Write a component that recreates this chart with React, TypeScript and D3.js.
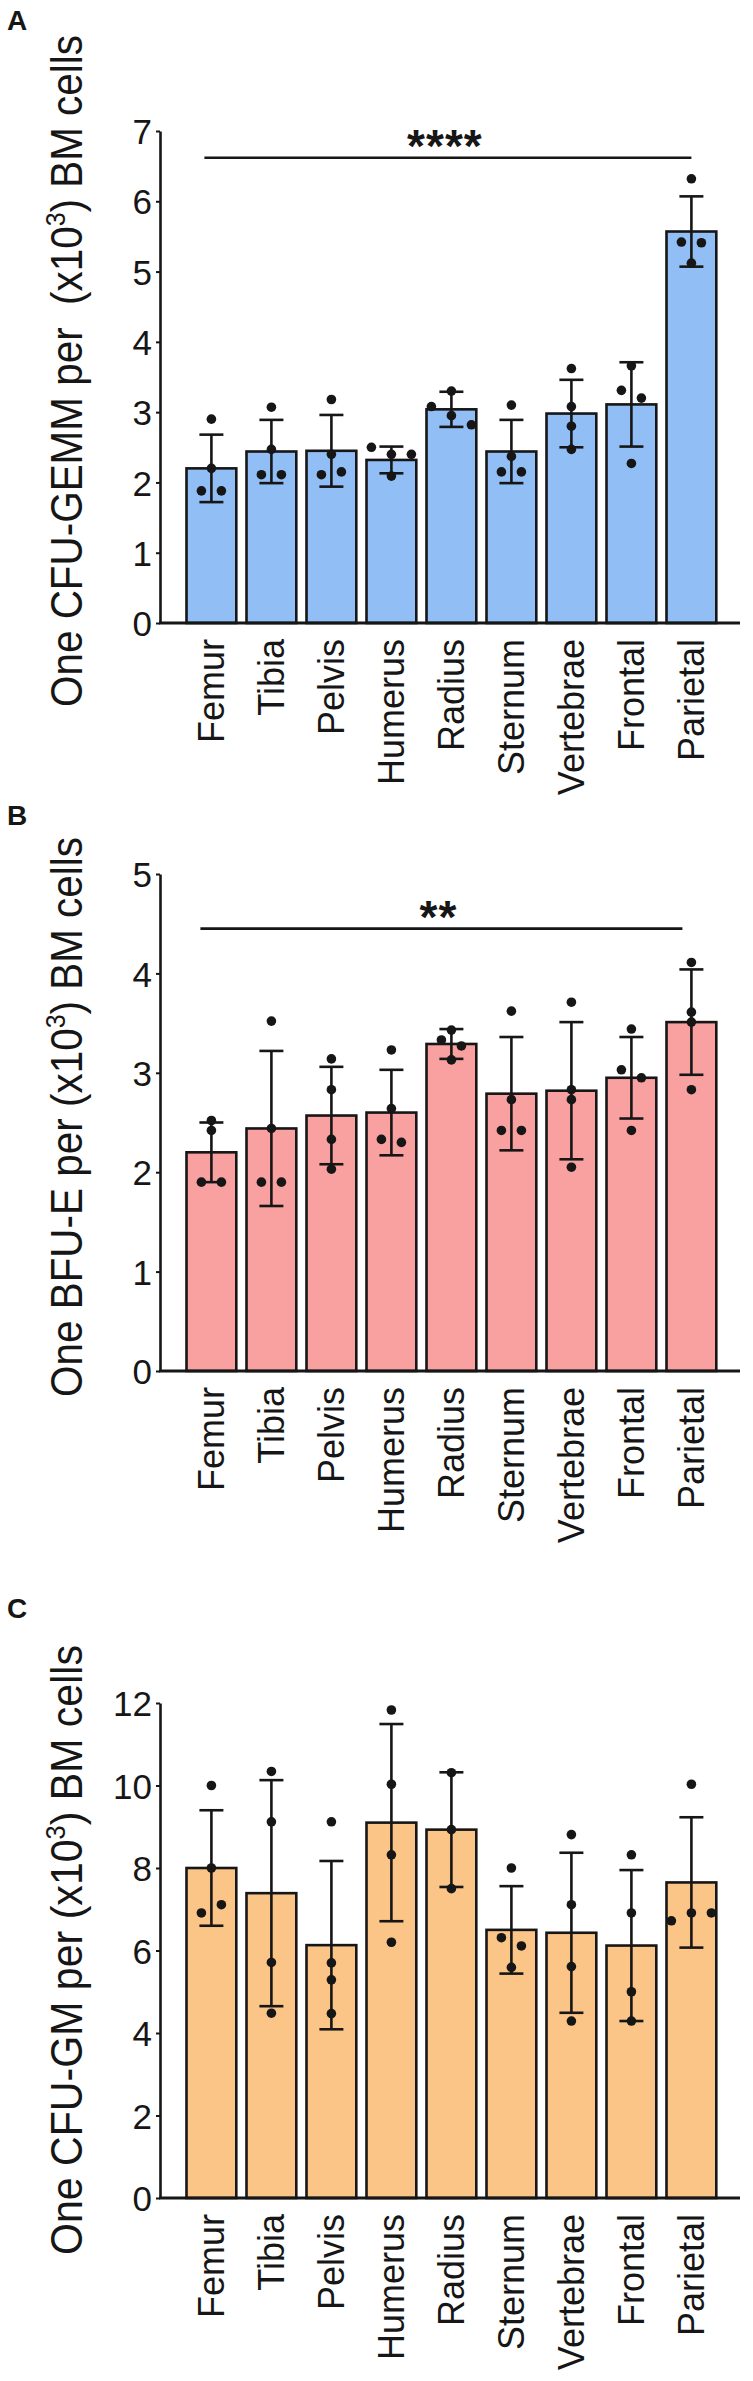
import * as d3 from 'd3';
import { useEffect, useRef } from 'react';

// categories
const bones = ['Femur', 'Tibia', 'Pelvis', 'Humerus', 'Radius', 'Sternum', 'Vertebrae', 'Frontal', 'Parietal'];

// A: CFU-GEMM
const gemmMean = [2.2, 2.44, 2.45, 2.32, 3.04, 2.44, 2.98, 3.11, 5.57];
const gemmSd = [0.48, 0.45, 0.51, 0.19, 0.25, 0.45, 0.48, 0.6, 0.5];
const gemmDots = [
    [2.9, 2.2, 1.88, 1.88],
    [3.07, 2.47, 2.11, 2.11],
    [3.18, 2.4, 2.11, 2.15],
    [2.5, 2.4, 2.4, 2.09],
    [3.3, 3.08, 2.95, 2.82],
    [3.1, 2.37, 2.15, 2.15],
    [3.62, 3.08, 2.8, 2.47],
    [3.66, 3.31, 3.2, 2.27],
    [6.32, 5.42, 5.41, 5.12],
];
const gemmTicks = [0, 1, 2, 3, 4, 5, 6, 7];

// B: BFU-E
const bfueMean = [2.2, 2.44, 2.57, 2.6, 3.29, 2.79, 2.82, 2.95, 3.51];
const bfueSd = [0.3, 0.78, 0.49, 0.43, 0.15, 0.57, 0.69, 0.41, 0.53];
const bfueDots = [
    [2.52, 2.42, 1.9, 1.9],
    [3.52, 2.44, 1.9, 1.9],
    [3.14, 2.83, 2.33, 2.03],
    [3.23, 2.64, 2.33, 2.3],
    [3.43, 3.33, 3.27, 3.13],
    [3.62, 2.73, 2.42, 2.42],
    [3.71, 2.83, 2.73, 2.05],
    [3.44, 3.03, 2.95, 2.42],
    [4.11, 3.61, 3.51, 2.83],
];
const bfueTicks = [0, 1, 2, 3, 4, 5];

// C: CFU-GM
const gmMean = [8.0, 7.39, 6.13, 9.1, 8.93, 6.5, 6.43, 6.12, 7.65];
const gmSd = [1.4, 2.74, 2.04, 2.39, 1.39, 1.06, 1.94, 1.83, 1.58];
const gmDots = [
    [10.0, 8.0, 6.91, 7.11],
    [10.34, 9.12, 5.71, 4.48],
    [9.12, 5.7, 5.29, 4.47],
    [11.83, 10.03, 8.32, 6.2],
    [10.31, 8.93, 7.5],
    [8.0, 6.31, 6.11, 5.59],
    [8.81, 7.11, 5.61, 4.29],
    [8.32, 6.91, 5.0, 4.29],
    [10.03, 6.72, 6.91, 6.91],
];
const gmTicks = [0, 2, 4, 6, 8, 10, 12];

const panels = [
    {
        letter: 'A', means: gemmMean, sd: gemmSd, dots: gemmDots, ticks: gemmTicks,
        title: ['One CFU-GEMM per\u00a0\u00a0(x10', '3', ') BM cells'],
        sig: { value: 6.62, text: '****', from: -7, to: 0 },
        fill: '#91bef5', top: 131, bottom: 623, letterY: 30, titleY: 371, titleLen: 672,
    },
    {
        letter: 'B', means: bfueMean, sd: bfueSd, dots: bfueDots, ticks: bfueTicks,
        title: ['One BFU-E per (x10', '3', ') BM cells'],
        sig: { value: 4.45, text: '**', from: -11, to: -9 },
        fill: '#f9a1a0', top: 874, bottom: 1371, letterY: 825, titleY: 1117, titleLen: 560,
    },
    {
        letter: 'C', means: gmMean, sd: gmSd, dots: gmDots, ticks: gmTicks,
        title: ['One CFU-GM per (x10', '3', ') BM cells'],
        sig: null,
        fill: '#fcc588', top: 1703, bottom: 2198, letterY: 1618, titleY: 1950, titleLen: 610,
    },
];

const INK = '#161616';
const FONT = '"Liberation Sans", Arial, sans-serif';

// spread dots that would overlap sideways
function jitter(vals: number[], y: (v: number) => number) {
    const offs = vals.map(() => 0);
    const used = vals.map(() => false);
    for (let i = 0; i < vals.length; i++) {
        if (used[i]) continue;
        const cluster = [i];
        used[i] = true;
        for (let j = i + 1; j < vals.length; j++) {
            if (used[j]) continue;
            if (cluster.some((k) => Math.abs(y(vals[k]) - y(vals[j])) < 9.5)) {
                cluster.push(j);
                used[j] = true;
            }
        }
        cluster.forEach((k, n) => (offs[k] = (n - (cluster.length - 1) / 2) * 20));
    }
    return offs;
}

const App = () => {
    const svgRef = useRef<SVGSVGElement>(null);

    useEffect(() => {
        const svg = d3.select(svgRef.current);
        svg.selectAll('*').remove();

        const axisX = 160;

        panels.forEach((p) => {
            const g = svg.append('g');
            const x = d3.scaleBand().domain(bones).range([180.5, 722.3]).paddingInner(0.17).paddingOuter(0.1);
            const y = d3.scaleLinear().domain([0, d3.max(p.ticks) || 1]).range([p.bottom, p.top]);
            const cx = (d: string) => (x(d) || 0) + x.bandwidth() / 2;

            // panel letter
            g.append('text').attr('x', 7).attr('y', p.letterY).text(p.letter)
                .attr('font-family', FONT).attr('font-weight', 'bold').attr('font-size', 28).attr('fill', INK);

            // y title
            const t = g.append('text')
                .attr('transform', `translate(82,${p.titleY}) rotate(-90)`)
                .attr('text-anchor', 'middle').attr('font-family', FONT).attr('font-size', 44).attr('fill', INK)
                .attr('textLength', p.titleLen).attr('lengthAdjust', 'spacingAndGlyphs');
            t.append('tspan').text(p.title[0]);
            t.append('tspan').text(p.title[1]).attr('font-size', 27).attr('dy', -17);
            t.append('tspan').text(p.title[2]).attr('dy', 17);

            // bars
            g.selectAll('rect.bar').data(bones).enter().append('rect')
                .attr('class', 'bar')
                .attr('x', (d) => x(d) || 0)
                .attr('y', (_, i) => y(p.means[i]))
                .attr('width', x.bandwidth())
                .attr('height', (_, i) => y(0) - y(p.means[i]))
                .attr('fill', p.fill).attr('stroke', INK).attr('stroke-width', 2.6);

            // error bars
            const eb = g.selectAll('g.err').data(bones).enter().append('g').attr('class', 'err')
                .attr('stroke', INK).attr('stroke-width', 2.6);
            eb.append('line')
                .attr('x1', (d) => cx(d)).attr('x2', (d) => cx(d))
                .attr('y1', (_, i) => y(p.means[i] + p.sd[i])).attr('y2', (_, i) => y(p.means[i] - p.sd[i]));
            [1, -1].forEach((s) => {
                eb.append('line')
                    .attr('x1', (d) => cx(d) - 12).attr('x2', (d) => cx(d) + 12)
                    .attr('y1', (_, i) => y(p.means[i] + s * p.sd[i])).attr('y2', (_, i) => y(p.means[i] + s * p.sd[i]));
            });

            // individual points
            bones.forEach((b, i) => {
                const offs = jitter(p.dots[i], y);
                g.selectAll(null).data(p.dots[i]).enter().append('circle')
                    .attr('cx', (_, k) => cx(b) + offs[k])
                    .attr('cy', (v) => y(v))
                    .attr('r', 4.8)
                    .attr('fill', INK);
            });

            // y axis
            const yAxis = d3.axisLeft(y).tickValues(p.ticks).tickSize(4).tickSizeOuter(0).tickPadding(4).tickFormat(d3.format('d'));
            const ya = g.append('g').attr('transform', `translate(${axisX},0)`).call(yAxis);
            ya.select('.domain').attr('stroke', INK).attr('stroke-width', 2.6);
            ya.selectAll('.tick line').attr('stroke', INK).attr('stroke-width', 2);
            ya.selectAll('.tick text').attr('font-family', FONT).attr('font-size', 35).attr('fill', INK).attr('dy', '0.36em');

            // x axis
            g.append('line').attr('x1', axisX - 1).attr('x2', 740).attr('y1', y(0)).attr('y2', y(0))
                .attr('stroke', INK).attr('stroke-width', 2.8);
            const xAxis = d3.axisBottom(x).tickSize(0);
            const xa = g.append('g').attr('transform', `translate(0,${y(0)})`).call(xAxis);
            xa.select('.domain').remove();
            xa.selectAll('.tick text')
                .attr('x', null).attr('y', null).attr('dy', null)
                .attr('transform', 'translate(13,16) rotate(-90)')
                .attr('text-anchor', 'end')
                .attr('font-family', FONT).attr('font-size', 36).attr('fill', INK);

            // significance bracket
            if (p.sig) {
                const x0 = cx(bones[0]) + p.sig.from;
                const x1 = cx(bones[bones.length - 1]) + p.sig.to;
                g.append('line').attr('x1', x0).attr('x2', x1).attr('y1', y(p.sig.value)).attr('y2', y(p.sig.value))
                    .attr('stroke', INK).attr('stroke-width', 2.6);
                g.append('text').attr('x', (x0 + x1) / 2 - 3).attr('y', y(p.sig.value) + 4)
                    .attr('text-anchor', 'middle').attr('font-family', FONT).attr('font-weight', 'bold')
                    .attr('font-size', 46).attr('letter-spacing', 1).attr('fill', INK).text(p.sig.text);
            }
        });
    }, []);

    return (
        <div style={{ position: 'absolute', left: 0, top: 0, background: '#fff' }}>
            <svg ref={svgRef} width={753} height={2381} style={{ display: 'block' }}></svg>
        </div>
    );
};

export default App;
